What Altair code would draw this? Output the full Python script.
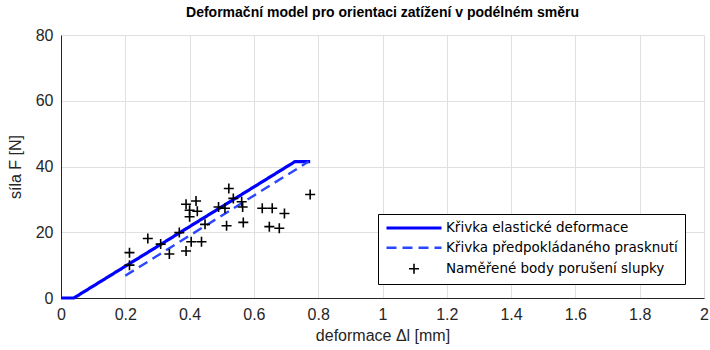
import altair as alt
import pandas as pd

S1 = "Křivka elastické deformace"
S2 = "Křivka předpokládaného prasknutí"
S3 = "Naměřené body porušení slupky"

elastic_x = [0.0, 0.04, 0.728, 0.775]
elastic_y = [0.0, 0.0, 41.5, 41.5]
crack_x = [0.2, 0.77]
crack_y = [6.8, 41.5]

pts_x = [0.213, 0.213, 0.27, 0.31, 0.337, 0.368, 0.389, 0.389, 0.40, 0.40, 0.405, 0.42, 0.424,
         0.437, 0.448, 0.49, 0.51, 0.515, 0.522, 0.536, 0.562, 0.565, 0.567, 0.626, 0.648,
         0.657, 0.679, 0.695, 0.775]
pts_y = [13.8, 10.0, 18.1, 16.4, 13.4, 19.9, 28.5, 14.3, 24.7, 26.7, 17.1, 29.5, 26.4,
         17.1, 22.4, 27.7, 27.3, 22.0, 33.3, 30.3, 29.3, 27.7, 23.0, 27.3, 21.7,
         27.3, 21.2, 25.7, 31.5]

lines = pd.concat([
    pd.DataFrame({"x": elastic_x, "y": elastic_y, "series": S1}),
    pd.DataFrame({"x": crack_x, "y": crack_y, "series": S2}),
])
points = pd.DataFrame({"x": pts_x, "y": pts_y, "series": S3})

dom = [S1, S2, S3]
PLUS = "M-1,0L1,0M0,-1L0,1"
LINE = "M-5.5,0L5.5,0"

color = alt.Color("series:N", scale=alt.Scale(domain=dom, range=["#0000ff", "#2a46ff", "#000000"]),
                  legend=alt.Legend(title=None, orient="none", legendX=317, legendY=179,
                                    padding=7, strokeColor="#000000", fillColor="white",
                                    labelFontSize=13.5, labelFont="DejaVu Sans", labelColor="#000000",
                                    rowPadding=5, symbolSize=100, symbolOffset=22,
                                    labelOffset=25, labelLimit=400))
dash = alt.StrokeDash("series:N", scale=alt.Scale(domain=dom, range=[[1, 0], [10, 6], [1, 0]]))
shape = alt.Shape("series:N", scale=alt.Scale(domain=dom, range=[LINE, LINE, PLUS]))
swidth = alt.StrokeWidth("series:N", scale=alt.Scale(domain=dom, range=[3.2, 1.6, 1.1]))

xenc = alt.X("x:Q", scale=alt.Scale(domain=[0, 2], nice=False),
             axis=alt.Axis(values=[0, 0.2, 0.4, 0.6, 0.8, 1.0, 1.2, 1.4, 1.6, 1.8, 2.0], format="~g",
                           title="deformace Δl [mm]"))
yenc = alt.Y("y:Q", scale=alt.Scale(domain=[0, 80], nice=False),
             axis=alt.Axis(values=[0, 20, 40, 60, 80], title="síla F [N]"))

line_layer = alt.Chart(lines).mark_line(strokeCap="butt").encode(
    x=xenc, y=yenc, color=color, strokeDash=dash, strokeWidth=swidth, detail="series:N")
point_layer = alt.Chart(points).mark_point(filled=False, size=100, opacity=1).encode(
    x=xenc, y=yenc, color=color, strokeWidth=swidth, shape=shape)

chart = alt.layer(line_layer, point_layer).properties(
    width=643, height=263,
    title=alt.TitleParams("Deformační model pro orientaci zatížení v podélném směru",
                          fontSize=14, font="Liberation Sans", fontWeight="bold", color="#000000",
                          offset=7, anchor="middle"),
    autosize=alt.AutoSizeParams(type="none"),
    padding={"left": 61, "top": 35, "right": 6, "bottom": 52},
).configure_view(stroke=None).configure_axis(
    labelFont="Liberation Sans", titleFont="Liberation Sans", labelFontSize=16, titleFontSize=16,
    labelColor="#262626", titleColor="#262626", titleFontWeight="normal",
    gridColor="#e0e0e0", gridWidth=1, domainColor="#262626", tickColor="#262626",
    tickSize=0, labelPadding=8, labelFlush=False,
).configure_axisX(titlePadding=5).configure_axisY(titlePadding=12)

chart.save("out.html", embed_options={"renderer": "svg", "actions": False})
